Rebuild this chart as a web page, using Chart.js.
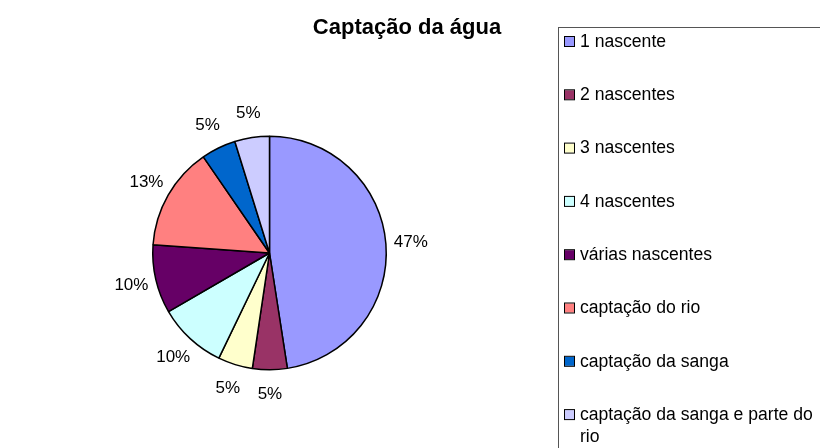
<!DOCTYPE html>
<html>
<head>
<meta charset="utf-8">
<script src="https://cdn.jsdelivr.net/npm/chart.js@4.4.0/dist/chart.umd.min.js"></script>
<style>
  html, body { margin: 0; padding: 0; background: #fff; }
  #wrap { width: 820px; height: 448px; position: relative; }
</style>
</head>
<body>
<div id="wrap"><canvas id="pieChart" width="820" height="448"></canvas></div>
<script>
const chartTitle = 'Captação da água';
const categories = ['1 nascente', '2 nascentes', '3 nascentes', '4 nascentes',
    'várias nascentes', 'captação do rio', 'captação da sanga',
    'captação da sanga e parte do rio'];
const shares = [47.6, 4.8, 4.8, 9.5, 9.5, 14.3, 4.8, 4.8];
const pctLabels = ['47%', '5%', '5%', '10%', '10%', '13%', '5%', '5%'];
const colors = ['#9999FF', '#993366', '#FFFFCC', '#CCFFFF', '#660066', '#FF8080', '#0066CC', '#CCCCFF'];

const FONT = '"Liberation Sans", Arial, sans-serif';

// percentage labels outside each slice
const outsideLabels = {
    id: 'outsideLabels',
    afterDatasetsDraw(chart) {
        const c = chart.ctx;
        const meta = chart.getDatasetMeta(0);
        c.save();
        c.font = '17px ' + FONT;
        c.fillStyle = '#000';
        c.textAlign = 'center';
        c.textBaseline = 'middle';
        meta.data.forEach((arc, i) => {
            const p = arc.getProps(['x', 'y', 'startAngle', 'endAngle', 'outerRadius'], true);
            const mid = (p.startAngle + p.endAngle) / 2;
            const r = p.outerRadius + 25;
            c.fillText(pctLabels[i], p.x + Math.cos(mid) * r, p.y + Math.sin(mid) * r);
        });
        c.restore();
    }
};

// title and the boxed legend on the right
const sideLegend = {
    id: 'sideLegend',
    afterDraw(chart) {
        const c = chart.ctx;
        c.save();
        c.font = 'bold 22px ' + FONT;
        c.fillStyle = '#000';
        c.textAlign = 'center';
        c.textBaseline = 'alphabetic';
        c.fillText(chartTitle, 407, 34);

        c.strokeStyle = '#555';
        c.lineWidth = 1;
        c.strokeRect(558.5, 27.5, 300, 460);

        c.font = '17.6px ' + FONT;
        c.textAlign = 'left';
        c.textBaseline = 'middle';
        const maxW = 238;
        chart.data.labels.forEach((lab, i) => {
            const y = 42 + i * 53.3;
            c.fillStyle = colors[i];
            c.fillRect(565, y - 5, 9, 9);
            c.strokeStyle = '#000';
            c.strokeRect(564.5, y - 5.5, 10, 10);
            c.fillStyle = '#000';
            // simple word wrap
            const words = lab.split(' ');
            let line = '', ly = y;
            words.forEach(w => {
                const test = line ? line + ' ' + w : w;
                if (c.measureText(test).width > maxW && line) {
                    c.fillText(line, 580, ly);
                    line = w;
                    ly += 22;
                } else {
                    line = test;
                }
            });
            c.fillText(line, 580, ly);
        });
        c.restore();
    }
};

new Chart(document.getElementById('pieChart'), {
    type: 'pie',
    data: {
        labels: categories,
        datasets: [{
            data: shares,
            backgroundColor: colors,
            borderColor: '#000',
            borderWidth: 1.5,
        }],
    },
    options: {
        responsive: false,
        animation: false,
        layout: { padding: { left: 152, right: 433, top: 134, bottom: 76 } },
        plugins: {
            legend: { display: false },
            title: { display: false },
            tooltip: { enabled: false },
        },
    },
    plugins: [outsideLabels, sideLegend],
});
</script>
</body>
</html>
